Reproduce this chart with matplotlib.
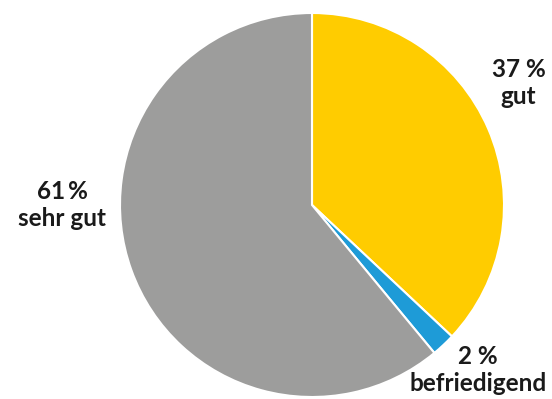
import matplotlib.pyplot as plt

labels = ['gut', 'befriedigend', 'sehr gut']
values = [37, 2, 61]
pct_texts = ['37 %', '2 %', '61\u2009%']
colors = ['#ffcc00', '#1e9bd7', '#9d9d9c']

plt.rcParams['font.family'] = ['Lato', 'DejaVu Sans']

fig = plt.figure(figsize=(5.52, 3.99), dpi=100)
ax = fig.add_axes([120 / 552, 2 / 399, 384 / 552, 384 / 399])
ax.pie(values, colors=colors, startangle=90, counterclock=False, radius=1,
       wedgeprops={'edgecolor': 'white', 'linewidth': 1.5})
ax.set_xlim(-1, 1)
ax.set_ylim(-1, 1)
ax.set_aspect('equal')
ax.axis('off')

# label positions in pie units (radius = 1)
label_pos = [(1.075, 0.635), (0.865, -0.86), (-1.3, 0.0)]
for lab, pct, (x, y) in zip(labels, pct_texts, label_pos):
    ax.text(x, y, '{}\n{}'.format(pct, lab), ha='center', va='center',
            fontsize=17.5, fontweight='bold', color='#1a1a1a',
            linespacing=1.25, clip_on=False)

fig.savefig('out.png', dpi=100)
